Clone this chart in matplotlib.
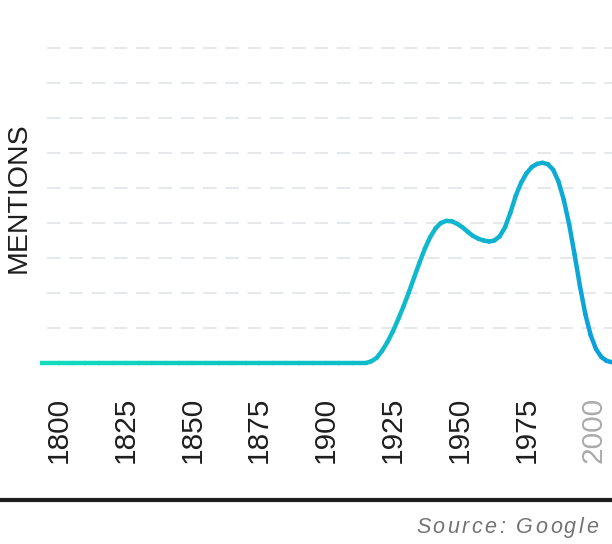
import matplotlib
matplotlib.use("Agg")
import matplotlib.pyplot as plt
import numpy as np
from matplotlib.collections import LineCollection
from matplotlib.colors import LinearSegmentedColormap
from matplotlib.lines import Line2D
from matplotlib.textpath import TextToPath
from matplotlib.font_manager import FontProperties

# mentions per year
years = [1793, 1800, 1805, 1810, 1815, 1820, 1825, 1830, 1835, 1840, 1845,
         1850, 1855, 1860, 1865, 1870, 1875, 1880, 1885, 1890, 1895, 1900,
         1905, 1910, 1915,
         1917, 1919, 1921, 1923, 1925, 1927, 1929, 1931, 1933, 1935, 1937,
         1939, 1941, 1943, 1945, 1947, 1949, 1951, 1953, 1955, 1957, 1959,
         1961, 1963, 1965, 1967, 1969, 1971, 1973, 1975, 1977, 1979, 1981,
         1983, 1985, 1987, 1989, 1991, 1993, 1995, 1997, 1999, 2001, 2003,
         2005, 2007]
mentions = [0, 0, 0, 0, 0, 0, 0, 0, 0, 0, 0,
            0, 0, 0, 0, 0, 0, 0, 0, 0, 0, 0,
            0, 0, 0,
            0.05, 0.15, 0.35, 0.6, 0.9, 1.25, 1.62, 2.02, 2.45, 2.87, 3.27,
            3.6, 3.85, 4.0, 4.06, 4.05, 3.98, 3.88, 3.75, 3.63, 3.55, 3.5,
            3.47, 3.5, 3.62, 3.88, 4.3, 4.78, 5.15, 5.42, 5.6, 5.69, 5.72,
            5.68, 5.52, 5.18, 4.65, 3.95, 3.1, 2.2, 1.4, 0.8, 0.4, 0.17,
            0.06, 0.02]

tick_years = [1800, 1825, 1850, 1875, 1900, 1925, 1950, 1975, 2000]
grid_levels = [1, 2, 3, 4, 5, 6, 7, 8, 9]

# line colour stops along the x axis
stop_years = [1793, 1850, 1910, 1950, 1980, 2007]
stop_colors = ["#12dfbb", "#0dcbc0", "#0fbdc9", "#0fb6cf", "#0eafd3", "#0a9edd"]

W, H, DPI = 612, 544, 100
fig = plt.figure(figsize=(W / DPI, H / DPI), dpi=DPI)
fig.patch.set_facecolor("white")

# axes: x 40..612 px, y 30..380 px
ax = fig.add_axes([40 / W, 1 - 380 / H, 572 / W, 350 / H])
ax.set_xlim(1793, 2007)
ax.set_ylim(-0.486, 9.514)
for s in ax.spines.values():
    s.set_visible(False)
ax.set_yticks([])
ax.set_facecolor("none")

for lv in grid_levels:
    gl = ax.axhline(lv, xmin=7 / 572, xmax=1, color="#e6e8ec", lw=1.5, zorder=1)
    gl.set_dashes((6.5, 4.2))

x = np.array(years, dtype=float)
y = np.array(mentions, dtype=float)
pts = np.column_stack([x, y]).reshape(-1, 1, 2)
segs = np.concatenate([pts[:-1], pts[1:]], axis=1)
lo, hi = stop_years[0], stop_years[-1]
cmap = LinearSegmentedColormap.from_list(
    "g", [((sy - lo) / (hi - lo), c) for sy, c in zip(stop_years, stop_colors)])
lc = LineCollection(segs, cmap=cmap, norm=plt.Normalize(lo, hi),
                    linewidths=3.2, capstyle="round", joinstyle="round", zorder=3)
lc.set_array((x[:-1] + x[1:]) / 2)
ax.add_collection(lc)

ax.set_xticks(tick_years)
ax.set_xticklabels([str(t) for t in tick_years], rotation=90,
                   fontsize=21.5, family="Liberation Sans", color="#1e1e1e")
ax.tick_params(axis="x", length=0, pad=12)
ax.get_xticklabels()[-1].set_color("#ababab")

fig.text(19 / W, 1 - 198 / H, "MENTIONS", rotation=90, ha="center", va="center",
         fontsize=20.5, family="Liberation Sans", color="#1e1e1e")

fig.add_artist(Line2D([0, 1], [1 - 500 / H, 1 - 500 / H], transform=fig.transFigure,
                      color="#1e1e1e", lw=3))

# letter-spaced source note, right aligned
src = "Source: Google"
fp = FontProperties(family="Liberation Sans", style="italic", size=15.5)
ttp = TextToPath()
px_per_pt = DPI / 72
spacing = 2.5
widths = [ttp.get_text_width_height_descent(c, fp, ismath=False)[0] * px_per_pt for c in src]
total = sum(widths) + spacing * (len(src) - 1)
cx = 598 - total
for c, w in zip(src, widths):
    fig.text(cx / W, 1 - 533 / H, c, fontproperties=fp, color="#737373",
             ha="left", va="baseline")
    cx += w + spacing

fig.savefig("out.png", dpi=DPI, facecolor="white")
